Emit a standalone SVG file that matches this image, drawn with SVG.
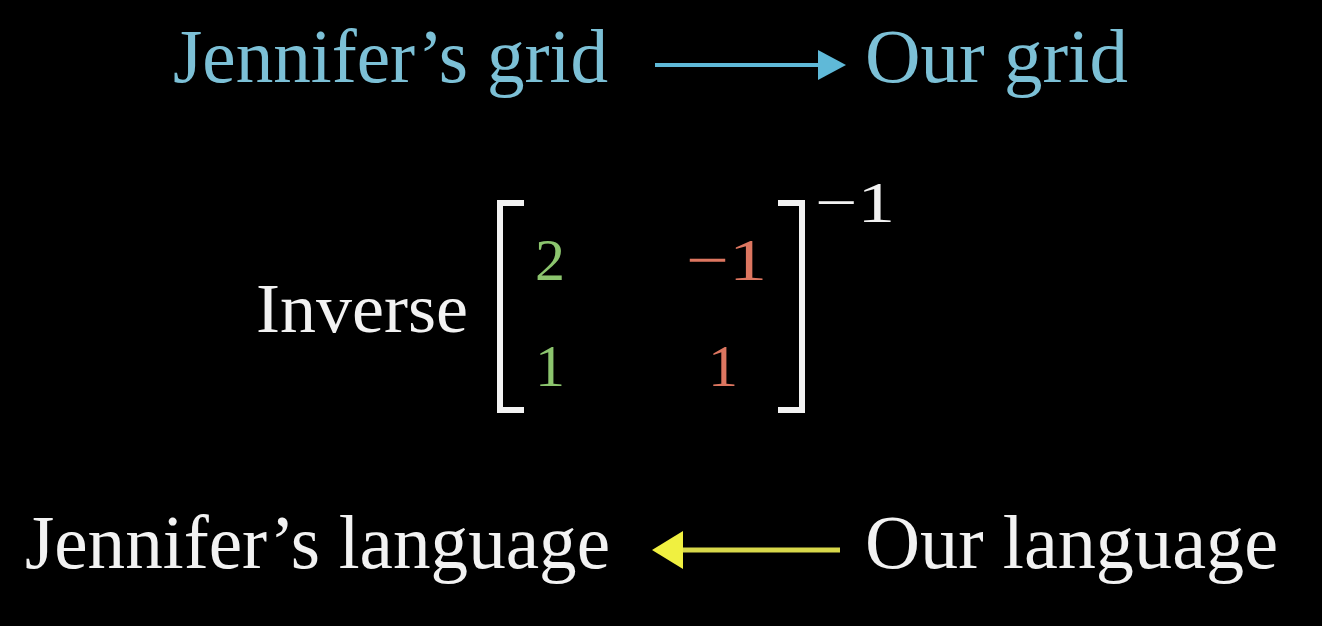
<svg xmlns="http://www.w3.org/2000/svg" width="1322" height="626" viewBox="0 0 1322 626">
<defs>
<style>
text{font-family:"Liberation Serif","DejaVu Serif",serif;}
.t{font-size:76px;}
.blue{fill:#7cc0d6;}
.white{fill:#f2f2f2;}
.green{fill:#8cc56e;font-size:60px;}
.red{fill:#dd7660;font-size:60px;}
.br{fill:none;stroke:#f2f2f2;stroke-width:6;}
</style>
</defs>
<rect width="1322" height="626" fill="#000"/>
<g id="jgrid"><text class="t blue" x="173" y="82" textLength="435" lengthAdjust="spacingAndGlyphs">Jennifer’s grid</text></g>
<g id="ogrid"><text class="t blue" x="865" y="82" textLength="263" lengthAdjust="spacingAndGlyphs">Our grid</text></g>
<g id="jlang"><text class="t white" x="25" y="568" textLength="585" lengthAdjust="spacingAndGlyphs">Jennifer’s language</text></g>
<g id="olang"><text class="t white" x="865" y="568" textLength="413" lengthAdjust="spacingAndGlyphs">Our language</text></g>
<g id="matrix">
<text class="white" x="256" y="332" font-size="70" textLength="212" lengthAdjust="spacingAndGlyphs">Inverse</text>
<path class="br" d="M524,203 H500 V410 H524"/>
<path class="br" d="M778,203 H802 V410 H778"/>
<text class="green" x="535" y="280">2</text>
<text class="red" x="686" y="280" textLength="81" lengthAdjust="spacingAndGlyphs">−1</text>
<text class="green" x="535" y="386">1</text>
<text class="red" x="708" y="386">1</text>
<text class="white" x="815" y="222" font-size="58" textLength="80" lengthAdjust="spacingAndGlyphs">−1</text>
</g>
<g id="connectors">
<line x1="655" y1="65" x2="820" y2="65" stroke="#5fb9d8" stroke-width="4"/>
<polygon points="818,50 846,65 818,80" fill="#5fb9d8"/>
<line x1="680" y1="550" x2="840" y2="550" stroke="#d8d84a" stroke-width="5"/>
<polygon points="683,531 652,550 683,569" fill="#f0f040"/>
</g>
</svg>
